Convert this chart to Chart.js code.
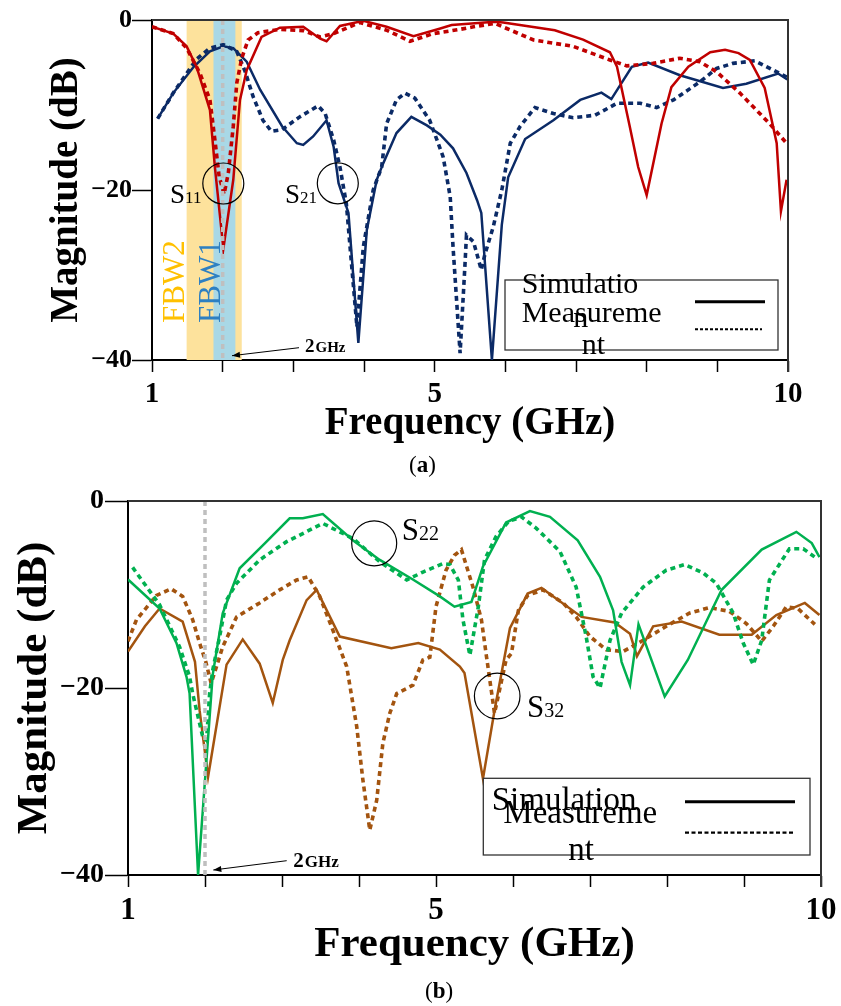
<!DOCTYPE html>
<html><head><meta charset="utf-8">
<script src="https://cdn.jsdelivr.net/npm/chart.js@4.4.1/dist/chart.umd.min.js"></script>
<style>
html,body{margin:0;padding:0;background:#fff;}
body{width:841px;height:1006px;position:relative;overflow:hidden;font-family:'Liberation Serif',serif;}
canvas{position:absolute;left:0;}
#ca{top:0;}
#cb{top:480px;}
.cap{position:absolute;font-family:'Liberation Serif',serif;font-size:23px;color:#000;}
</style>
</head><body>
<canvas id="ca" width="841" height="480"></canvas>
<canvas id="cb" width="841" height="526"></canvas>
<div class="cap" style="left:409px;top:452px;">(<b>a</b>)</div>
<div class="cap" style="left:425px;top:978px;">(<b>b</b>)</div>
<script>
// ---------- data (frequency in GHz, magnitude in dB) ----------
const xTickLabels = [1, 5, 10];
const yTickValues = [0, -20, -40];
const markerFreq = [2, 2];
const markerMag = [0, -40];
const fbw2Range = [1.49, 2.27];
const fbw1Range = [1.87, 2.18];

// (a) S11
const s11SimFreq = [1.00,1.30,1.49,1.63,1.82,1.89,2.01,2.15,2.245,2.34,2.55,2.81,3.14,3.38,3.47,3.66,3.99,4.32,4.70,5.08,5.24,5.85,5.97,6.70,7.10,7.48,7.58,7.76,7.88,8.00,8.21,8.35,8.59,8.90,9.11,9.30,9.46,9.67,9.84,9.90,9.98];
const s11SimMag  = [-0.8,-1.6,-3.1,-5.5,-10.6,-17.3,-26.9,-18.8,-9.4,-5.9,-2.0,-0.9,-0.8,-2.2,-2.5,-0.7,-0.1,-0.8,-1.9,-1.0,-0.6,-0.2,-0.3,-1.2,-2.3,-3.8,-5.5,-12.5,-17.3,-20.6,-12.2,-7.9,-5.5,-3.8,-3.5,-3.9,-4.7,-8.0,-14.5,-22.5,-18.8];
const s11MeasFreq = [1.00,1.30,1.49,1.68,1.82,1.89,1.95,2.02,2.08,2.15,2.20,2.27,2.36,2.50,2.81,3.14,3.38,3.57,3.94,4.32,4.65,4.98,5.36,5.55,5.85,6.02,6.40,6.96,7.48,7.72,8.09,8.47,8.75,8.99,9.32,9.74,9.98];
const s11MeasMag  = [-0.8,-1.6,-3.3,-6.3,-9.4,-14.1,-18.4,-20.5,-18.0,-12.5,-7.4,-4.5,-2.35,-1.5,-1.1,-1.25,-2.0,-1.6,-0.3,-1.2,-2.5,-1.6,-1.1,-0.8,-0.4,-1.0,-2.35,-3.1,-4.7,-5.4,-5.1,-4.5,-4.9,-6.1,-8.6,-12.2,-14.5];
// (a) S21
const s21SimFreq = [1.08,1.30,1.59,1.82,2.01,2.15,2.34,2.53,2.84,3.05,3.14,3.28,3.47,3.57,3.64,3.78,3.92,4.04,4.18,4.27,4.46,4.67,4.89,5.08,5.26,5.45,5.60,5.66,5.81,5.95,6.04,6.28,6.68,7.06,7.36,7.50,7.79,8.02,8.47,9.08,9.41,9.86,9.99];
const s21SimMag  = [-11.6,-8.6,-5.5,-3.7,-3.1,-3.3,-4.9,-8.2,-12.5,-14.5,-14.7,-13.7,-11.8,-14.9,-19.2,-22.7,-38.0,-24.7,-18.8,-16.9,-13.3,-11.4,-12.4,-13.5,-15.1,-18.0,-21.2,-22.7,-40.0,-24.1,-18.5,-14.0,-11.8,-9.4,-8.55,-9.3,-5.5,-5.0,-6.5,-8.0,-7.5,-6.3,-7.0];
const s21MeasFreq = [1.08,1.30,1.63,1.82,2.01,2.20,2.32,2.43,2.57,2.69,2.84,3.09,3.35,3.45,3.57,3.66,3.75,3.90,3.99,4.13,4.25,4.32,4.46,4.58,4.72,4.93,5.12,5.22,5.26,5.36,5.43,5.45,5.55,5.66,5.71,5.83,5.95,6.07,6.21,6.42,6.68,6.96,7.27,7.58,7.91,8.14,8.38,8.75,8.99,9.22,9.53,9.84,9.99];
const s21MeasMag  = [-11.6,-8.6,-4.6,-3.3,-2.9,-3.7,-6.1,-9.0,-11.8,-13.1,-12.9,-11.4,-10.1,-11.0,-14.1,-17.3,-21.6,-36.1,-26.7,-20.0,-17.3,-12.2,-9.4,-8.6,-9.2,-11.8,-16.1,-20.8,-26.7,-39.2,-28.6,-25.3,-26.1,-29.4,-27.6,-24.3,-20.0,-14.5,-12.5,-10.3,-11.0,-11.5,-11.2,-9.8,-9.8,-10.3,-9.4,-7.3,-5.7,-5.1,-4.8,-6.1,-6.75];

// (b) S22
const s22SimFreq = [1.00,1.41,1.63,1.76,1.80,1.91,2.10,2.23,2.45,2.78,3.10,3.27,3.53,3.92,4.27,4.70,5.05,5.24,5.46,5.61,5.91,6.22,6.48,6.84,7.13,7.30,7.41,7.52,7.63,7.97,8.27,8.71,9.23,9.68,9.88,9.98];
const s22SimMag  = [-8.4,-11.5,-15.2,-18.8,-20.6,-40.0,-18.6,-12.0,-7.2,-4.5,-1.85,-1.85,-1.4,-4.2,-6.3,-8.4,-10.2,-11.3,-10.8,-7.0,-2.3,-1.07,-1.7,-4.2,-8.1,-11.7,-17.2,-19.7,-13.2,-20.9,-17.0,-9.5,-5.2,-3.3,-4.5,-6.0];
const s22MeasFreq = [1.06,1.41,1.67,1.80,1.84,1.97,2.02,2.06,2.10,2.19,2.28,2.41,2.71,3.06,3.53,3.92,4.27,4.62,4.83,5.09,5.18,5.29,5.35,5.44,5.55,5.63,5.78,5.94,6.11,6.30,6.61,6.82,6.95,7.04,7.13,7.26,7.41,7.69,7.99,8.23,8.47,8.64,8.86,8.99,9.12,9.23,9.33,9.59,9.77,9.92];
const s22MeasMag  = [-7.1,-11.1,-15.6,-18.8,-20.6,-25.2,-25.6,-20.6,-18.1,-14.5,-10.6,-8.8,-6.3,-4.35,-2.4,-4.0,-6.5,-8.45,-7.6,-6.7,-6.8,-8.45,-12.7,-16.5,-11.3,-6.3,-3.8,-2.2,-1.7,-2.9,-5.4,-9.2,-14.5,-18.8,-20.0,-14.9,-12.0,-9.2,-7.4,-6.8,-7.7,-8.8,-12.0,-15.2,-17.5,-14.9,-8.45,-5.1,-5.1,-6.0];
// (b) S32
const s32SimFreq = [1.00,1.22,1.41,1.71,1.87,1.93,2.04,2.28,2.49,2.71,2.88,3.01,3.10,3.32,3.45,3.75,4.42,4.77,5.05,5.31,5.37,5.61,5.76,5.96,6.19,6.37,6.89,7.32,7.52,7.61,7.82,8.19,8.68,9.10,9.42,9.79,9.98];
const s32SimMag  = [-16.1,-13.4,-11.5,-12.9,-17.2,-22.4,-29.5,-17.5,-14.8,-17.4,-21.6,-17.0,-14.9,-10.6,-9.5,-14.5,-15.75,-15.2,-15.9,-17.7,-18.4,-29.7,-22.4,-13.6,-9.9,-9.3,-12.4,-13.0,-14.2,-16.6,-13.4,-12.9,-14.3,-14.3,-12.2,-10.9,-12.2];
const s32MeasFreq = [1.00,1.11,1.37,1.56,1.71,1.84,1.93,2.01,2.08,2.15,2.23,2.41,2.71,2.97,3.19,3.34,3.49,3.66,3.84,3.97,4.05,4.14,4.23,4.31,4.40,4.49,4.70,4.83,4.92,5.00,5.13,5.24,5.33,5.48,5.59,5.65,5.76,5.91,5.98,6.07,6.19,6.39,6.65,6.82,7.00,7.21,7.43,7.69,7.99,8.29,8.55,8.81,9.03,9.23,9.38,9.55,9.70,9.92];
const s32MeasMag  = [-15.0,-12.7,-10.1,-9.4,-10.2,-12.7,-15.2,-17.2,-19.5,-17.7,-15.6,-12.4,-10.9,-9.5,-8.45,-8.1,-10.2,-13.8,-17.7,-24.1,-29.8,-35.2,-32.0,-25.9,-22.7,-20.6,-19.7,-17.0,-16.7,-11.3,-7.4,-5.8,-5.2,-9.2,-12.7,-16.3,-22.7,-17.0,-16.3,-11.7,-10.1,-9.5,-10.9,-12.4,-14.5,-15.9,-16.1,-14.9,-13.4,-12.0,-11.4,-11.8,-13.1,-15.0,-13.4,-11.3,-11.5,-13.2];

// ---------- helpers ----------
const FONT = "'Liberation Serif', serif";
const pts = (f, m) => f.map((v, i) => ({x: v, y: m[i]}));
const solid = (label, f, m, color) => ({label, data: pts(f, m), borderColor: color, borderWidth: 2.5, pointRadius: 0, tension: 0, fill: false});
const dotted = (label, f, m, color) => ({label, data: pts(f, m), borderColor: color, borderWidth: 3.6, borderDash: [5, 4], pointRadius: 0, tension: 0, fill: false});
const marker = () => ({label: '2GHz', data: pts(markerFreq, markerMag), borderColor: '#BFBFBF', borderWidth: 3.5, borderDash: [5, 4], pointRadius: 0, fill: false});

function sLabel(ctx, x, y, sub, big, small) {
  ctx.fillStyle = '#000'; ctx.textBaseline = 'alphabetic'; ctx.textAlign = 'left';
  ctx.font = big + 'px ' + FONT;
  ctx.fillText('S', x, y);
  const w = ctx.measureText('S').width;
  ctx.font = small + 'px ' + FONT;
  ctx.fillText(sub, x + w, y);
}
function circle(ctx, x, y, r) {
  ctx.beginPath(); ctx.arc(x, y, r, 0, Math.PI * 2);
  ctx.strokeStyle = '#000'; ctx.lineWidth = 1.2; ctx.setLineDash([]); ctx.stroke();
}
function ghz(ctx, x, y, s1, s2, ax0, ay0, ax1, ay1) {
  ctx.fillStyle = '#000'; ctx.textBaseline = 'alphabetic'; ctx.textAlign = 'left';
  ctx.font = 'bold ' + s1 + 'px ' + FONT; ctx.fillText('2', x, y);
  const w = ctx.measureText('2').width;
  ctx.font = 'bold ' + s2 + 'px ' + FONT; ctx.fillText('GHz', x + w + 1, y);
  ctx.beginPath(); ctx.moveTo(ax0, ay0); ctx.lineTo(ax1, ay1);
  ctx.strokeStyle = '#000'; ctx.lineWidth = 1; ctx.setLineDash([]); ctx.stroke();
  const a = Math.atan2(ay1 - ay0, ax1 - ax0);
  ctx.beginPath(); ctx.moveTo(ax1, ay1);
  ctx.lineTo(ax1 - 8 * Math.cos(a) + 3 * Math.sin(a), ay1 - 8 * Math.sin(a) - 3 * Math.cos(a));
  ctx.lineTo(ax1 - 8 * Math.cos(a) - 3 * Math.sin(a), ay1 - 8 * Math.sin(a) + 3 * Math.cos(a));
  ctx.closePath(); ctx.fill();
}
function frame(chart) {
  const {ctx, chartArea: a} = chart;
  ctx.save(); ctx.strokeStyle = '#333'; ctx.lineWidth = 2; ctx.setLineDash([]);
  ctx.beginPath(); ctx.moveTo(a.left, a.top); ctx.lineTo(a.right, a.top); ctx.lineTo(a.right, a.bottom + 12); ctx.stroke();
  ctx.restore();
}

function makeChart(id, datasets, o) {
  const extras = {
    id: 'extras' + id,
    beforeDatasetsDraw(chart) {
      if (o.bands) o.bands(chart);
    },
    afterDraw(chart) {
      frame(chart);
      const ctx = chart.ctx; ctx.save(); o.annot(chart, ctx); ctx.restore();
    }
  };
  return new Chart(document.getElementById(id), {
    type: 'line',
    data: {datasets},
    plugins: [extras],
    options: {
      responsive: false, animation: false, devicePixelRatio: 1,
      layout: {padding: {top: o.padTop, right: o.padRight, left: 0, bottom: 0}},
      plugins: {legend: {display: false}, tooltip: {enabled: false}},
      scales: {
        x: {
          type: 'linear', min: 1, max: 10,
          afterFit(s) { s.height = o.xH; s.paddingLeft = 0; s.paddingRight = 0; },
          ticks: {stepSize: 1, autoSkip: false, maxRotation: 0, padding: o.xTickPad, color: '#000',
            font: {family: FONT, size: o.xTickSize, weight: 'bold'},
            callback: v => xTickLabels.includes(v) ? String(v) : ''},
          grid: {drawOnChartArea: false, drawTicks: true, tickLength: 12, color: '#000', tickWidth: 1.5},
          border: {display: true, color: '#000', width: 2},
          title: {display: true, text: 'Frequency (GHz)', color: '#000',
            font: {family: FONT, size: o.xTitleSize, weight: 'bold'}, padding: {top: 0, bottom: o.xTitlePad}}
        },
        y: {
          type: 'linear', min: -40, max: 0,
          afterFit(s) { s.width = o.yW; s.paddingTop = 0; s.paddingBottom = 0; },
          afterBuildTicks(s) { s.ticks = yTickValues.map(v => ({value: v})); },
          ticks: {padding: o.yTickPad, color: '#000',
            font: {family: FONT, size: o.yTickSize, weight: 'bold'},
            callback: v => v === 0 ? '0' : '\u2212' + Math.abs(v)},
          grid: {drawOnChartArea: false, drawTicks: true, tickLength: o.yTickLen, color: '#000', tickWidth: 1.5},
          border: {display: true, color: '#000', width: 2},
          title: {display: true, text: 'Magnitude (dB)', color: '#000',
            font: {family: FONT, size: o.yTitleSize, weight: 'bold'}, padding: {top: o.yTitlePad, bottom: 0}}
        }
      }
    }
  });
}

// ---------- chart (a) ----------
makeChart('ca', [
  marker(),
  solid('S11 simulation', s11SimFreq, s11SimMag, '#C00000'),
  dotted('S11 measurement', s11MeasFreq, s11MeasMag, '#C00000'),
  solid('S21 simulation', s21SimFreq, s21SimMag, '#0B2A66'),
  dotted('S21 measurement', s21MeasFreq, s21MeasMag, '#0B2A66')
], {
  padTop: 20, padRight: 53, xH: 120, yW: 152,
  xTickPad: 5, xTickSize: 29, yTickPad: 0, yTickSize: 26, yTickLen: 20,
  xTitleSize: 39, xTitlePad: 33, yTitleSize: 39, yTitlePad: 44,
  bands(chart) {
    const {ctx, chartArea: a, scales: {x}} = chart;
    ctx.save();
    ctx.fillStyle = '#FDE29C';
    ctx.fillRect(x.getPixelForValue(fbw2Range[0]), a.top, x.getPixelForValue(fbw2Range[1]) - x.getPixelForValue(fbw2Range[0]), a.bottom - a.top);
    ctx.fillStyle = '#A9D8E6';
    ctx.fillRect(x.getPixelForValue(fbw1Range[0]), a.top, x.getPixelForValue(fbw1Range[1]) - x.getPixelForValue(fbw1Range[0]), a.bottom - a.top);
    ctx.restore();
  },
  annot(chart, ctx) {
    ctx.font = '31px ' + FONT; ctx.textBaseline = 'alphabetic'; ctx.textAlign = 'left';
    ctx.save(); ctx.translate(184, 323); ctx.rotate(-Math.PI / 2); ctx.fillStyle = '#FFC000'; ctx.fillText('FBW2', 0, 0); ctx.restore();
    ctx.save(); ctx.translate(220, 323); ctx.rotate(-Math.PI / 2); ctx.fillStyle = '#2E80C2'; ctx.fillText('FBW1', 0, 0); ctx.restore();
    circle(ctx, 223.3, 183.5, 20.5);
    circle(ctx, 337.8, 183.3, 20.5);
    sLabel(ctx, 170, 203, '11', 27, 17);
    sLabel(ctx, 285, 203, '21', 27, 17);
    ghz(ctx, 305, 352, 19, 15, 299, 347.7, 232, 355.7);
    ctx.fillStyle = '#fff'; ctx.fillRect(505, 280, 273, 70);
    ctx.strokeStyle = '#333'; ctx.lineWidth = 1.3; ctx.setLineDash([]); ctx.strokeRect(505, 280, 273, 70);
    ctx.fillStyle = '#000'; ctx.font = '30px ' + FONT;
    ctx.fillText('Simulatio', 521.7, 293);
    ctx.fillText('Measureme', 521.7, 321.7);
    ctx.fillText('n', 573.3, 326.7);
    ctx.fillText('nt', 581.7, 354);
    ctx.beginPath(); ctx.moveTo(695, 301.7); ctx.lineTo(765, 301.7); ctx.lineWidth = 3; ctx.strokeStyle = '#000'; ctx.stroke();
    ctx.beginPath(); ctx.setLineDash([3, 2]); ctx.moveTo(695, 329.3); ctx.lineTo(762, 329.3); ctx.lineWidth = 2; ctx.stroke(); ctx.setLineDash([]);
  }
});

// ---------- chart (b) ----------
const OY = 480;
makeChart('cb', [
  marker(),
  solid('S22 simulation', s22SimFreq, s22SimMag, '#00B050'),
  dotted('S22 measurement', s22MeasFreq, s22MeasMag, '#00B050'),
  solid('S32 simulation', s32SimFreq, s32SimMag, '#A3540F'),
  dotted('S32 measurement', s32MeasFreq, s32MeasMag, '#A3540F')
], {
  padTop: 21, padRight: 20, xH: 131, yW: 128,
  xTickPad: 5, xTickSize: 31, yTickPad: 1, yTickSize: 28, yTickLen: 23,
  xTitleSize: 43, xTitlePad: 35, yTitleSize: 43, yTitlePad: 9,
  annot(chart, ctx) {
    circle(ctx, 374.2, 543.3 - OY, 22.5);
    circle(ctx, 497.2, 696 - OY, 22.8);
    sLabel(ctx, 401.7, 540 - OY, '22', 31, 20);
    sLabel(ctx, 527, 716.5 - OY, '32', 31, 20);
    ghz(ctx, 293.3, 866.7 - OY, 21, 17, 286.7, 860.7 - OY, 213.3, 870 - OY);
    ctx.fillStyle = '#fff'; ctx.fillRect(483.3, 778.3 - OY, 326.7, 76.7);
    ctx.strokeStyle = '#333'; ctx.lineWidth = 1.3; ctx.setLineDash([]); ctx.strokeRect(483.3, 778.3 - OY, 326.7, 76.7);
    ctx.fillStyle = '#000'; ctx.font = '33px ' + FONT; ctx.textAlign = 'left'; ctx.textBaseline = 'alphabetic';
    ctx.fillText('Simulation', 491.7, 810 - OY);
    ctx.fillText('Measureme', 503.3, 823.3 - OY);
    ctx.fillText('nt', 568.3, 860 - OY);
    ctx.beginPath(); ctx.moveTo(685, 801.7 - OY); ctx.lineTo(795, 801.7 - OY); ctx.lineWidth = 3; ctx.strokeStyle = '#000'; ctx.stroke();
    ctx.beginPath(); ctx.setLineDash([4, 2.5]); ctx.moveTo(685, 832.7 - OY); ctx.lineTo(795, 832.7 - OY); ctx.lineWidth = 2.2; ctx.stroke(); ctx.setLineDash([]);
  }
});
</script>
</body></html>
